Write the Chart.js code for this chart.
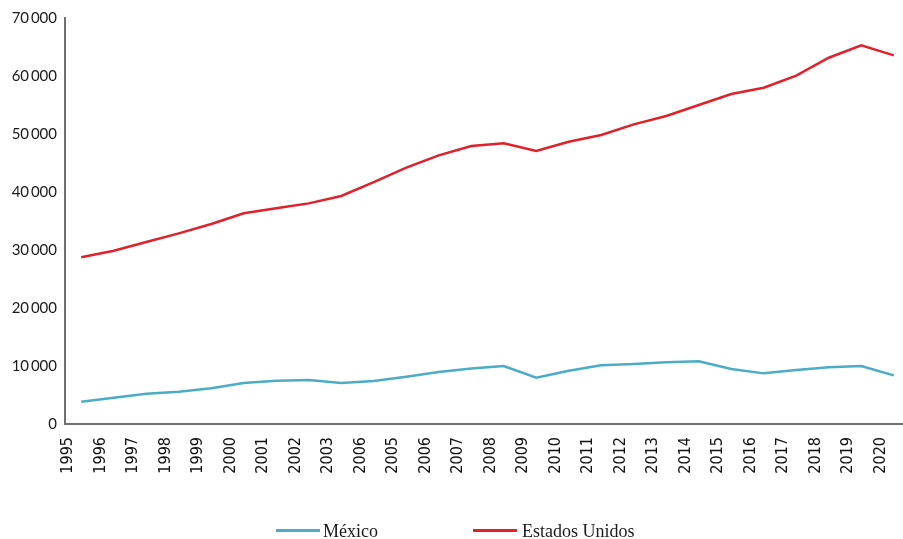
<!DOCTYPE html>
<html lang="es">
<head>
<meta charset="utf-8">
<title>México vs Estados Unidos</title>
<script src="https://cdn.jsdelivr.net/npm/chart.js@4/dist/chart.umd.min.js"></script>
<style>
  html, body { margin:0; padding:0; background:#fff; overflow:hidden; }
  #wrap { position:relative; width:910px; height:539px; }
  .leg-sw { position:absolute; height:2.5px; width:44px; top:529px; }
  .leg-tx { position:absolute; top:522px; font:18px/18px "Liberation Serif", serif; color:#1a1a1a; white-space:nowrap; }
</style>
</head>
<body>
<div id="wrap">
  <canvas id="chart" width="910" height="539"></canvas>
  <div class="leg-sw" style="left:276px;background:#4bacc6"></div>
  <div class="leg-tx" style="left:323px">México</div>
  <div class="leg-sw" style="left:473px;background:#e0202a"></div>
  <div class="leg-tx" style="left:522px">Estados Unidos</div>
</div>
<script>
/* ── Data ────────────────────────────────────────── */
const years = ['1995','1996','1997','1998','1999','2000','2001','2002','2003','2006','2005','2006','2007',
               '2008','2009','2010','2011','2012','2013','2014','2015','2016','2017','2018','2019','2020'];

const mexico = [3850, 4540, 5230, 5570, 6150, 7070, 7470, 7590, 7070, 7410, 8160, 8960, 9550,
                10000, 7990, 9190, 10110, 10340, 10630, 10800, 9480, 8730, 9310, 9770, 10000, 8390];

const estadosUnidos = [28740, 29880, 31380, 32870, 34480, 36320, 37180, 38040, 39310, 41720, 44200, 46320, 47930,
                       48390, 47070, 48670, 49820, 51660, 53100, 55000, 56890, 57980, 60050, 63150, 65280, 63560];

const yMin = 0, yMax = 70000, yStep = 10000;

const AXIS_COLOR = '#6f6f6f';
const fmtThin = v => String(v).replace(/\B(?=(\d{3})+(?!\d))/g, '\u2009');

new Chart(document.getElementById('chart'), {
  type: 'line',
  data: {
    labels: years,
    datasets: [
      { label:'México',         data: mexico,        borderColor:'#4bacc6', backgroundColor:'#4bacc6',
        borderWidth:2.5, pointRadius:0, tension:0, fill:false },
      { label:'Estados Unidos', data: estadosUnidos, borderColor:'#e0202a', backgroundColor:'#e0202a',
        borderWidth:2.5, pointRadius:0, tension:0, fill:false }
    ]
  },
  options: {
    responsive: false,
    animation: false,
    layout: { padding: { top:18, left:0, right:0, bottom:0 } },
    plugins: { legend: { display:false }, tooltip: { enabled:false } },
    scales: {
      x: {
        offset: true,
        grid: { display:false, drawTicks:false },
        border: { display:true, color:AXIS_COLOR, width:2 },
        ticks: {
          autoSkip: false, minRotation: 90, maxRotation: 90,
          padding: 13, labelOffset: -13, color:'#111',
          font: { family:'"DejaVu Sans Condensed", "Liberation Sans", sans-serif', size:16 }
        },
        afterFit: s => { s.height = 115; s.paddingLeft = 0; s.paddingRight = 0; }
      },
      y: {
        min: yMin, max: yMax,
        grid: { display:false, drawTicks:false },
        border: { display:true, color:AXIS_COLOR, width:2 },
        ticks: {
          stepSize: yStep, padding: 8, color:'#1a1a1a',
          font: { family:'Lato, sans-serif', size:15 },
          callback: v => fmtThin(v)
        },
        afterFit: s => { s.width = 65; }
      }
    }
  }
});
</script>
</body>
</html>
